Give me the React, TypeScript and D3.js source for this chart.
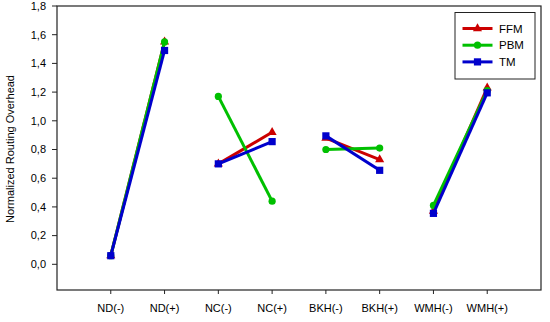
import React from "react";
import * as d3 from "d3";

const categories = ["ND(-)", "ND(+)", "NC(-)", "NC(+)", "BKH(-)", "BKH(+)", "WMH(-)", "WMH(+)"];
const seriesNames = ["FFM", "PBM", "TM"];
const ffmValues = [0.06, 1.55, 0.70, 0.92, 0.88, 0.73, 0.37, 1.23];
const pbmValues = [0.06, 1.55, 1.17, 0.44, 0.80, 0.81, 0.41, 1.21];
const tmValues = [0.06, 1.49, 0.70, 0.855, 0.895, 0.655, 0.355, 1.195];
const yTicks = [0, 0.2, 0.4, 0.6, 0.8, 1.0, 1.2, 1.4, 1.6, 1.8];
const colors = ["#cc0000", "#00c000", "#0000cc"];

const W = 550, H = 322;
const left = 57, right = 541, top = 6, bottom = 290;
const font = "Liberation Sans, Arial, sans-serif";

function Marker({ kind, x, y, color }: { kind: number; x: number; y: number; color: string }) {
  if (kind === 0) {
    const s = d3.symbol().type(d3.symbolTriangle).size(36)();
    return <path d={s || ""} transform={`translate(${x},${y})`} fill={color} />;
  }
  if (kind === 1) return <circle cx={x} cy={y} r={3.6} fill={color} />;
  return <rect x={x - 3.6} y={y - 3.6} width={7.2} height={7.2} fill={color} />;
}

export default function App() {
  const x = d3.scalePoint<string>().domain(categories).range([left, right]).padding(1);
  const y = d3.scaleLinear().domain([-0.179, 1.8]).range([bottom, top]);
  const all = [ffmValues, pbmValues, tmValues];
  const fmt = (v: number) => v.toFixed(1).replace(".", ",");
  const pairs = [0, 2, 4, 6];
  const line = d3.line<[number, number]>();

  return (
    <svg width={W} height={H} style={{ position: "absolute", left: 0, top: 0, background: "#fff" }} fontFamily={font}>
      <rect x={0} y={0} width={W} height={H} fill="#fff" />
      {/* frame */}
      <rect x={left} y={top} width={right - left} height={bottom - top} fill="none" stroke="#222" strokeWidth={1.2} />
      {/* y ticks */}
      {yTicks.map((t) => (
        <g key={t}>
          <line x1={left - 5} x2={left} y1={y(t)} y2={y(t)} stroke="#222" />
          <text x={left - 11} y={y(t)} dy="0.35em" textAnchor="end" fontSize={11} fill="#000">{fmt(t)}</text>
        </g>
      ))}
      {/* x ticks */}
      {categories.map((c) => (
        <g key={c}>
          <line x1={x(c)!} x2={x(c)!} y1={bottom} y2={bottom + 4} stroke="#222" />
          <text x={x(c)!} y={312} textAnchor="middle" fontSize={11} fill="#000">{c}</text>
        </g>
      ))}
      <text transform={`translate(14,149) rotate(-90)`} textAnchor="middle" fontSize={11} fill="#000">Normalized Routing Overhead</text>
      {/* series */}
      {all.map((vals, si) => (
        <g key={si}>
          {pairs.map((p) => (
            <path key={p} d={line([[x(categories[p])!, y(vals[p])], [x(categories[p + 1])!, y(vals[p + 1])]]) || ""}
              stroke={colors[si]} strokeWidth={3} fill="none" />
          ))}
          {vals.map((v, i) => (
            <Marker key={i} kind={si} x={x(categories[i])!} y={y(v)} color={colors[si]} />
          ))}
        </g>
      ))}
      {/* legend */}
      <rect x={455} y={12.5} width={80} height={66.5} fill="#fff" stroke="#222" strokeWidth={1} />
      {seriesNames.map((n, i) => {
        const ly = 28.5 + i * 16.7;
        return (
          <g key={n}>
            <line x1={462.5} x2={492.5} y1={ly} y2={ly} stroke={colors[i]} strokeWidth={3} />
            <Marker kind={i} x={477.5} y={ly} color={colors[i]} />
            <text x={499} y={ly} dy="0.36em" fontSize={11.5} fill="#000">{n}</text>
          </g>
        );
      })}
    </svg>
  );
}
